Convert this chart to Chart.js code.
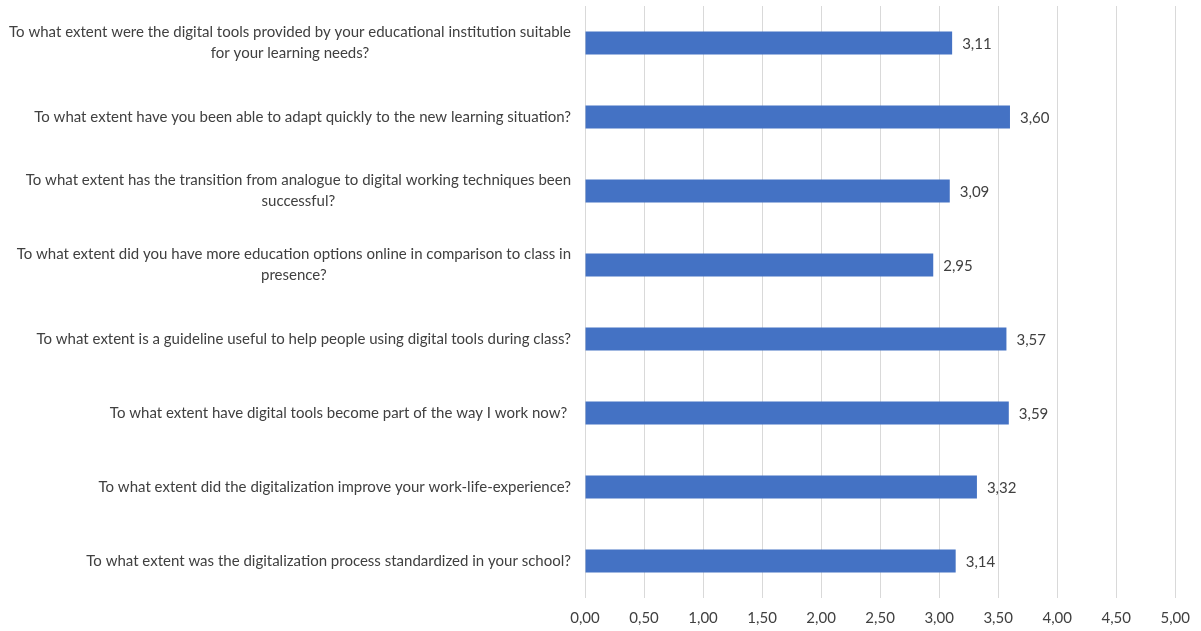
<!DOCTYPE html>
<html>
<head>
<meta charset="utf-8">
<script src="https://cdn.jsdelivr.net/npm/chart.js@4/dist/chart.umd.min.js"></script>
<style>
  html, body { margin: 0; padding: 0; background: #ffffff; }
  #wrap { width: 1201px; height: 631px; }
</style>
</head>
<body>
<div id="wrap"><canvas id="surveyChart" width="1201" height="631"></canvas></div>
<script>
// Questions (each entry is the wrapped lines of one label)
const questions = [
    ['To what extent were the digital tools provided by your educational institution suitable', 'for your learning needs?'],
    ['To what extent have you been able to adapt quickly to the new learning situation?'],
    ['To what extent has the transition from analogue to digital working techniques been', 'successful?'],
    ['To what extent did you have more education options online in comparison to class in', 'presence?'],
    ['To what extent is a guideline useful to help people using digital tools during class?'],
    ['To what extent have digital tools become part of the way I work now? '],
    ['To what extent did the digitalization improve your work-life-experience?'],
    ['To what extent was the digitalization process standardized in your school?']
];

// Mean score per question
const scores = [3.11, 3.60, 3.09, 2.95, 3.57, 3.59, 3.32, 3.14];

// Axis range
const axisMin = 0;
const axisMax = 5;
const axisStep = 0.5;

const FONT = 'Lato, "Open Sans", sans-serif';
const FONT_SIZE = 15;
const TEXT_COLOR = '#404040';

function fmt(v) {
    return Number(v).toFixed(2).replace('.', ',');
}

// Draws the question text to the left of the plot and the values next to the bars
const labelPlugin = {
    id: 'labelPlugin',
    afterDraw(chart) {
        const ctx = chart.ctx;
        const yScale = chart.scales.y;
        const xScale = chart.scales.x;
        const rightEdge = chart.chartArea.left - 14;
        const lineH = 21;

        ctx.save();
        ctx.fillStyle = TEXT_COLOR;
        ctx.textBaseline = 'middle';
        ctx.font = FONT_SIZE + 'px ' + FONT;

        questions.forEach((lines, i) => {
            const cy = yScale.getPixelForValue(i);
            const blockW = Math.max(...lines.map(l => ctx.measureText(l).width));
            const cx = rightEdge - blockW / 2;
            const top = cy - (lines.length - 1) * lineH / 2;
            ctx.textAlign = 'center';
            lines.forEach((l, k) => ctx.fillText(l, cx, top + k * lineH));
        });

        ctx.textAlign = 'left';
        scores.forEach((v, i) => {
            const x = xScale.getPixelForValue(v) + 10;
            const y = yScale.getPixelForValue(i) + 1;
            ctx.fillText(fmt(v), x, y);
        });
        ctx.restore();
    }
};

const ctx = document.getElementById('surveyChart');
new Chart(ctx, {
    type: 'bar',
    data: {
        labels: questions.map(q => q.join(' ')),
        datasets: [{
            data: scores,
            backgroundColor: '#4472C4',
            borderWidth: 0,
            categoryPercentage: 1,
            barPercentage: 0.31
        }]
    },
    options: {
        indexAxis: 'y',
        responsive: false,
        animation: false,
        layout: { padding: { top: 6, right: 24, left: 0, bottom: 0 } },
        plugins: {
            legend: { display: false },
            tooltip: { enabled: false }
        },
        scales: {
            x: {
                min: axisMin,
                max: axisMax,
                grid: { color: '#d9d9d9', lineWidth: 1, drawTicks: false },
                border: { display: false },
                ticks: {
                    stepSize: axisStep,
                    padding: 11,
                    color: TEXT_COLOR,
                    font: { family: FONT, size: FONT_SIZE },
                    callback: v => fmt(v)
                },
                afterFit(scale) { scale.height = 33; }
            },
            y: {
                grid: { display: false },
                border: { display: false },
                ticks: { display: false },
                afterFit(scale) { scale.width = 585; }
            }
        }
    },
    plugins: [labelPlugin]
});
</script>
</body>
</html>
